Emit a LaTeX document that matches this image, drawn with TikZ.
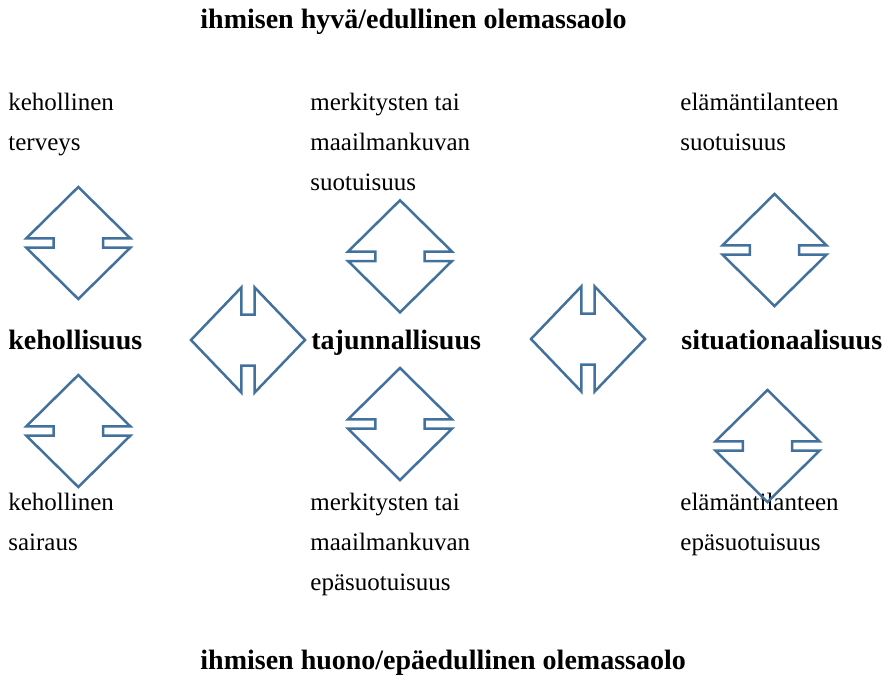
\documentclass[tikz,border=0pt]{standalone}
\usepackage{fontspec}
\setmainfont{Liberation Serif}
\definecolor{arrowblue}{HTML}{41719C}
\begin{document}
\begin{tikzpicture}[x=0.5pt,y=-0.5pt,
  txt/.style={anchor=base west,inner sep=0pt,font=\fontsize{12.5}{15}\selectfont},
  bold/.style={anchor=base west,inner sep=0pt,font=\fontsize{14}{17}\selectfont\bfseries},
  shp/.style={draw=arrowblue,line width=1.25pt,line join=miter},
  vshape/.pic={\draw[shp] (0,-56) -- (52,-4.7) -- (24.7,-4.7) -- (24.7,4.7) -- (52,4.7) -- (0,56) -- (-52,4.7) -- (-24.7,4.7) -- (-24.7,-4.7) -- (-52,-4.7) -- cycle;},
  hshape/.pic={\draw[shp] (-57,0) -- (-6.7,-52.5) -- (-6.7,-25.5) -- (6.7,-25.5) -- (6.7,-52.5) -- (57,0) -- (6.7,52.5) -- (6.7,25.5) -- (-6.7,25.5) -- (-6.7,52.5) -- cycle;}]
\useasboundingbox (0,0) rectangle (883,675);

% titles
\node[bold] (good) at (200,28) {ihmisen hyvä/edullinen olemassaolo};
\node[bold] (bad) at (200,669) {ihmisen huono/epäedullinen olemassaolo};

% left column
\node[txt] (l1) at (8,110) {kehollinen};
\node[txt] (l2) at (8,150) {terveys};
\node[bold] (lm) at (8,349) {kehollisuus};
\node[txt] (l3) at (8,510) {kehollinen};
\node[txt] (l4) at (8,550) {sairaus};

% middle column
\node[txt] (m1) at (310,110) {merkitysten tai};
\node[txt] (m2) at (310,150) {maailmankuvan};
\node[txt] (m3) at (310,190) {suotuisuus};
\node[bold] (mm) at (311,349) {tajunnallisuus};
\node[txt] (m4) at (310,510) {merkitysten tai};
\node[txt] (m5) at (310,550) {maailmankuvan};
\node[txt] (m6) at (310,590) {epäsuotuisuus};

% right column
\node[txt] (r1) at (680,110) {elämäntilanteen};
\node[txt] (r2) at (680,150) {suotuisuus};
\node[bold] (rm) at (681,349) {situationaalisuus};
\node[txt] (r3) at (680,510) {elämäntilanteen};
\node[txt] (r4) at (680,550) {epäsuotuisuus};

% vertical double arrows
\pic at (78.3,243) {vshape};
\pic at (400,256.3) {vshape};
\pic at (774.5,250) {vshape};
\pic at (78.3,431) {vshape};
\pic at (400,424) {vshape};
\pic at (767.5,446) {vshape};

% horizontal double arrows
\pic at (248,340) {hshape};
\pic at (588,339) {hshape};
\end{tikzpicture}
\end{document}
